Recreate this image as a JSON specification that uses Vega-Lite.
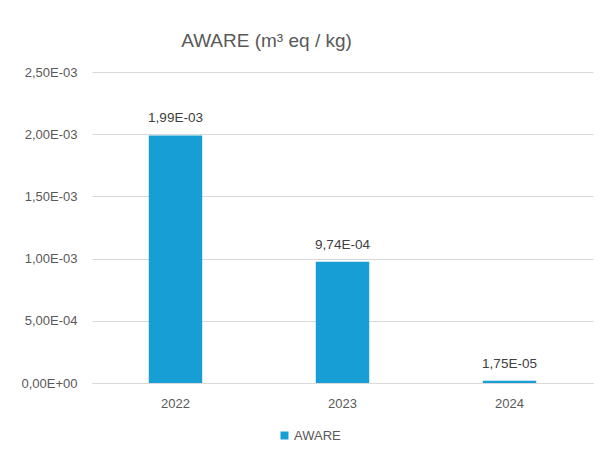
{
  "$schema": "https://vega.github.io/schema/vega-lite/v6.json",
  "width": 501,
  "height": 311,
  "autosize": "none",
  "padding": {"left": 92, "top": 72, "right": 11, "bottom": 69},
  "background": "white",
  "config": {
    "font": "Liberation Sans",
    "view": {"stroke": null}
  },
  "title": {
    "text": "AWARE (m³ eq / kg)",
    "anchor": "middle",
    "dx": -76,
    "offset": 15,
    "fontSize": 19,
    "fontWeight": "normal",
    "color": "#595959",
    "font": "Liberation Sans"
  },
  "data": {
    "values": [
      {"year": "2022", "value": 0.00199, "series": "AWARE"},
      {"year": "2023", "value": 0.000974, "series": "AWARE"},
      {"year": "2024", "value": 0.0000175, "series": "AWARE"}
    ]
  },
  "transform": [
    {"calculate": "datum.value == 0 ? '0,00E+00' : replace(format(datum.value / pow(10, floor(log(datum.value) / LN10 + 1e-9)), '.2f'), '.', ',') + 'E' + (floor(log(datum.value) / LN10 + 1e-9) < 0 ? '-' : '+') + (abs(floor(log(datum.value) / LN10 + 1e-9)) < 10 ? '0' : '') + abs(floor(log(datum.value) / LN10 + 1e-9))", "as": "label"}
  ],
  "encoding": {
    "x": {
      "field": "year",
      "type": "nominal",
      "scale": {"paddingInner": 0.68, "paddingOuter": 0.34},
      "axis": {
        "title": null,
        "labelAngle": 0,
        "labelFontSize": 13,
        "labelColor": "#595959",
        "labelPadding": 14,
        "ticks": false,
        "domainColor": "#d9d9d9",
        "domainWidth": 1
      }
    },
    "y": {
      "field": "value",
      "type": "quantitative",
      "scale": {"domain": [0, 0.0025]},
      "axis": {
        "title": null,
        "values": [0, 0.0005, 0.001, 0.0015, 0.002, 0.0025],
        "labelExpr": "datum.value == 0 ? '0,00E+00' : replace(format(datum.value / pow(10, floor(log(datum.value) / LN10 + 1e-9)), '.2f'), '.', ',') + 'E' + (floor(log(datum.value) / LN10 + 1e-9) < 0 ? '-' : '+') + (abs(floor(log(datum.value) / LN10 + 1e-9)) < 10 ? '0' : '') + abs(floor(log(datum.value) / LN10 + 1e-9))",
        "labelFontSize": 13,
        "labelColor": "#595959",
        "labelPadding": 15,
        "ticks": false,
        "domain": false,
        "gridColor": "#d9d9d9",
        "gridWidth": 1
      }
    }
  },
  "layer": [
    {
      "mark": {"type": "bar", "color": "#179fd5"},
      "encoding": {
        "color": {
          "field": "series",
          "type": "nominal",
          "scale": {"range": ["#179fd5"]},
          "legend": {
            "title": null,
            "orient": "none",
            "legendX": 186,
            "legendY": 357,
            "symbolType": "square",
            "symbolSize": 64,
            "labelFontSize": 13,
            "labelColor": "#595959",
            "labelOffset": 3
          }
        }
      }
    },
    {
      "mark": {"type": "text", "dy": -10, "baseline": "bottom", "fontSize": 13.5, "color": "#404040"},
      "encoding": {"text": {"field": "label"}}
    }
  ]
}
